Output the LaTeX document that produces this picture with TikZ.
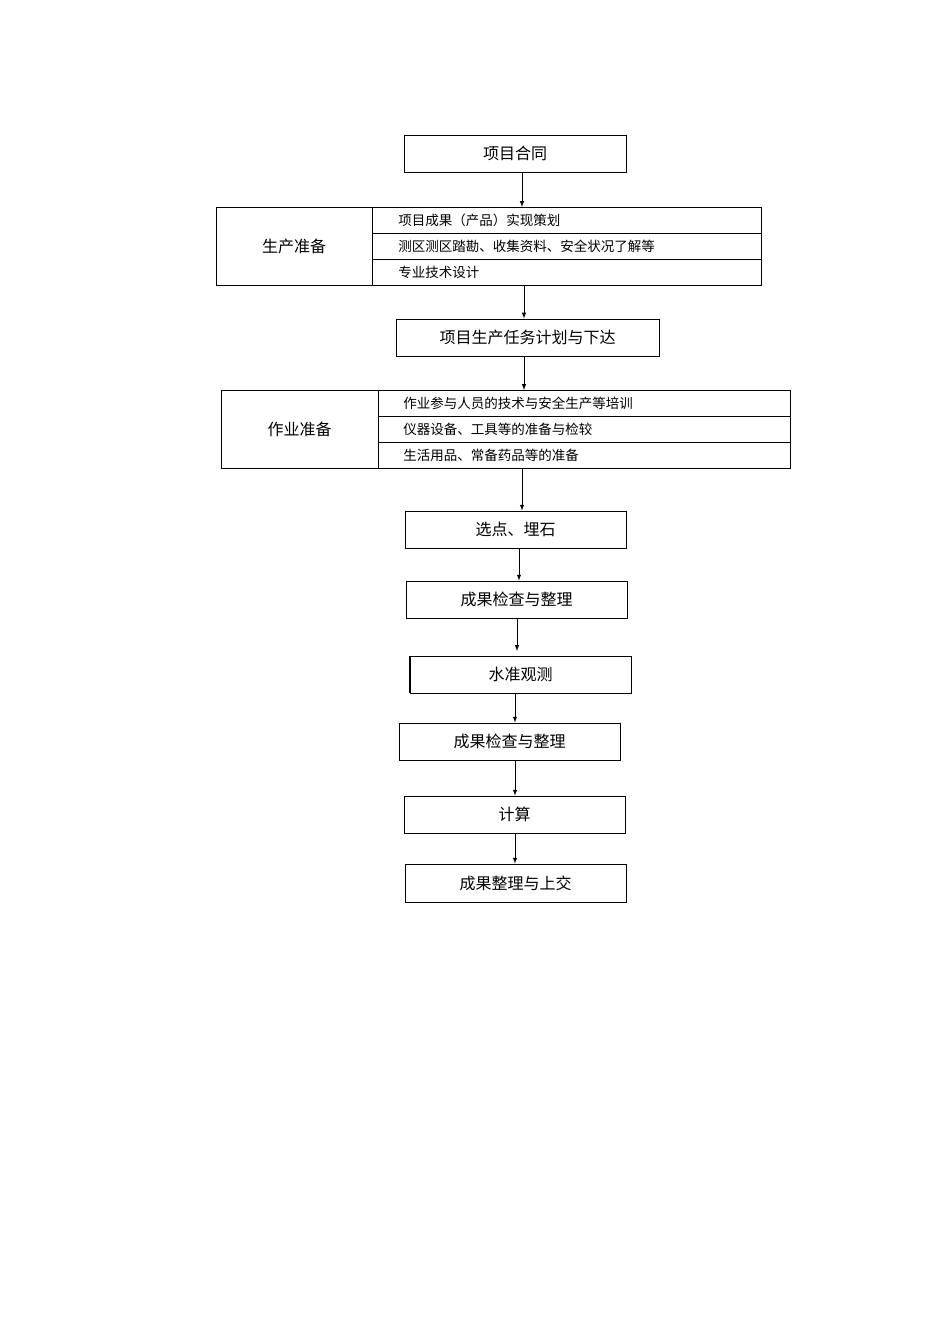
\documentclass[tikz,border=0pt]{standalone}
\usepackage{fontspec}
\setmainfont{Noto Sans CJK SC}
\begin{document}
\begin{tikzpicture}[x=1pt,y=-1pt,
  box/.style={draw,line width=0.9pt,inner sep=0pt,minimum height=37pt,font=\fontsize{16}{16}\selectfont},
  cell/.style={draw,line width=0.9pt,inner sep=0pt,font=\fontsize{16}{16}\selectfont},
  row/.style={draw,line width=0.9pt,inner sep=0pt,minimum height=26pt,anchor=north west,text width=#1,align=left,font=\fontsize{13.5}{13.5}\selectfont},
  arr/.style={-latex,line width=1pt}]
\useasboundingbox (0,0) rectangle (950,1344);
\node[box,minimum width=222pt] (n1) at (515,153.5) {项目合同};
\node[cell,minimum width=156pt,minimum height=78pt] (p0) at (294,246) {生产准备};
\node[row=389pt] (p1) at (372,207) {\hspace{26pt}项目成果（产品）实现策划};
\node[row=389pt] (p2) at (372,233) {\hspace{26pt}测区测区踏勘、收集资料、安全状况了解等};
\node[row=389pt] (p3) at (372,259) {\hspace{26pt}专业技术设计};
\node[box,minimum width=263pt,line width=1pt] (n2) at (527.5,337.5) {项目生产任务计划与下达};
\draw[line width=1.6pt] (n2.north east) -- (n2.south east) -- (n2.south west);
\node[cell,minimum width=157pt,minimum height=78pt] (w0) at (299.5,429) {作业准备};
\node[row=412pt] (w1) at (378,390) {\hspace{25pt}作业参与人员的技术与安全生产等培训};
\node[row=412pt] (w2) at (378,416) {\hspace{25pt}仪器设备、工具等的准备与检较};
\node[row=412pt] (w3) at (378,442) {\hspace{25pt}生活用品、常备药品等的准备};
\node[box,minimum width=221pt] (n3) at (515.5,529.5) {选点、埋石};
\node[box,minimum width=221pt] (n4) at (516.5,599.5) {成果检查与整理};
\node[box,minimum width=221pt] (n5) at (520.5,674.5) {水准观测};
\draw[line width=1.6pt] (n5.north west) -- (n5.south west);
\node[box,minimum width=221pt] (n6) at (509.5,741.5) {成果检查与整理};
\draw[line width=1.6pt] (n6.north east) -- (n6.south east);
\node[box,minimum width=221pt] (n7) at (514.5,814.5) {计算};
\node[box,minimum width=221pt,minimum height=38pt] (n8) at (515.5,883) {成果整理与上交};
\draw[arr] (n1.south -| 522,0) -- (p1.north -| 522,0);
\draw[arr] (p3.south -| 524,0) -- (n2.north -| 524,0);
\draw[arr] (n2.south -| 524,0) -- (w1.north -| 524,0);
\draw[arr] (w3.south -| 522,0) -- (n3.north -| 522,0);
\draw[arr] (n3.south -| 519,0) -- (n4.north -| 519,0);
\draw[arr] (n4.south -| 517,0) -- (517,651);
\draw[arr] (n5.south -| 515,0) -- (n6.north -| 515,0);
\draw[arr] (n6.south -| 515,0) -- (n7.north -| 515,0);
\draw[arr] (n7.south -| 515,0) -- (n8.north -| 515,0);
\end{tikzpicture}
\end{document}
